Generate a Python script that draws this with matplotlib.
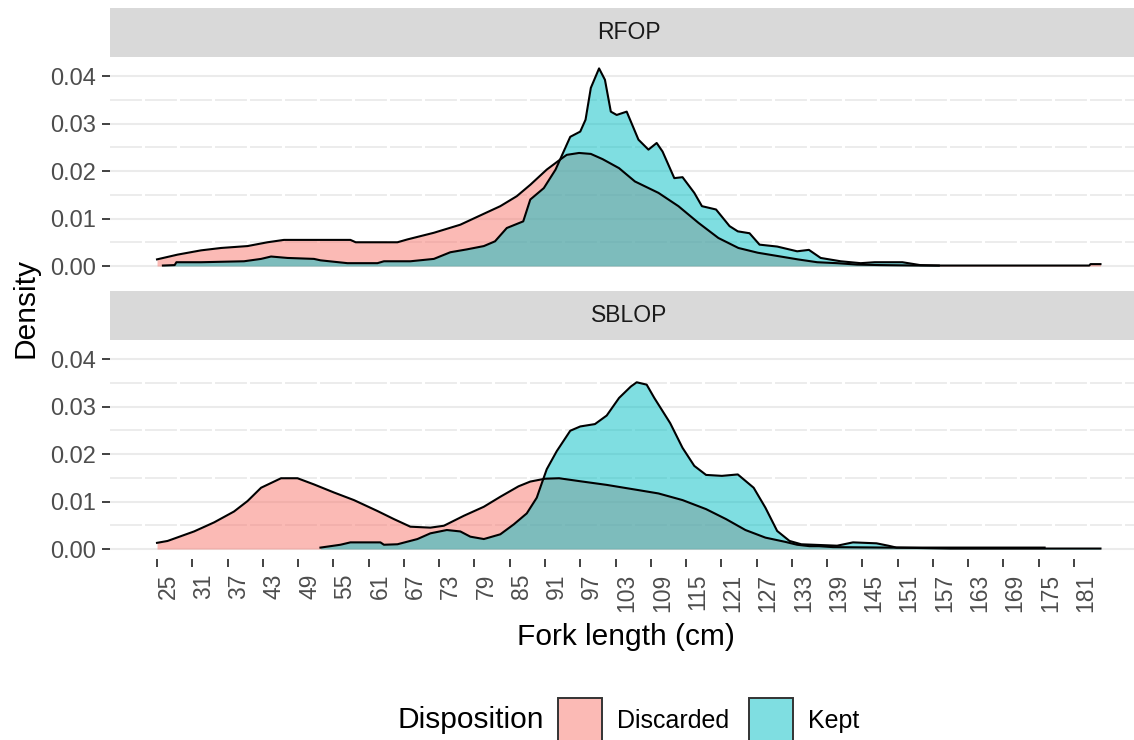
import matplotlib
matplotlib.use('Agg')
import matplotlib.pyplot as plt
from matplotlib.patches import Rectangle

plt.rcParams['font.family'] = ['Liberation Sans', 'DejaVu Sans']
plt.rcParams['lines.scale_dashes'] = False

# density curves (fork length cm, density)
rfop_disc_x = [25, 28.5, 32.5, 35.9, 40.4, 43.8, 46.6, 52.3, 57.9, 58.8, 65.9, 67.6, 72.1, 76.6,
               80.6, 83.4, 86.2, 88.5, 91.3, 93.9, 94.7, 96.8, 98.8, 100.8, 103.6, 106.3, 110.3,
               113.7, 117.1, 120.5, 123.9, 127.2, 130.6, 134.0, 137.3, 140.7, 144.1, 148, 155,
               165, 175, 183.6, 183.8, 185.5]
rfop_disc_y = [0.0014, 0.0024, 0.0033, 0.0038, 0.0042, 0.0050, 0.0055, 0.0055, 0.0055, 0.0050,
               0.0050, 0.0056, 0.0070, 0.0087, 0.0110, 0.0126, 0.0147, 0.0171, 0.0203, 0.0227,
               0.0234, 0.0238, 0.0236, 0.0225, 0.0206, 0.0178, 0.0154, 0.0126, 0.0091, 0.0059,
               0.0038, 0.0028, 0.0021, 0.0014, 0.0008, 0.0006, 0.0003, 0.0002, 0.0001, 0.0001,
               0.0001, 0.0001, 0.0004, 0.0004]

rfop_kept_x = [26.0, 28.0, 28.3, 32.5, 39.8, 42.7, 44.4, 47.2, 51.7, 52.8, 57.4, 62.5, 63.6, 68.1,
               72.1, 74.9, 77.7, 80.6, 82.5, 84.5, 87.3, 88.5, 90.8, 92.8, 94.5, 95.3, 97.0,
               97.9, 98.8, 100.2, 101.2, 102.2, 103.2, 104.9, 106.9, 108.6, 110.0, 111.0, 113.0,
               114.4, 116.4, 117.7, 120.1, 122.4, 123.8, 125.8, 127.5, 130.5, 133.9, 135.9,
               137.9, 141.3, 144.7, 147.1, 151.8, 154.8, 158]
rfop_kept_y = [0.0001, 0.0002, 0.0008, 0.0008, 0.0010, 0.0015, 0.0020, 0.0017, 0.0015, 0.0012,
               0.0006, 0.0006, 0.0010, 0.0010, 0.0015, 0.0029, 0.0035, 0.0042, 0.0052, 0.0080,
               0.0094, 0.0140, 0.0164, 0.0203, 0.0250, 0.0272, 0.0283, 0.0308, 0.0375, 0.0416,
               0.0392, 0.0325, 0.0318, 0.0325, 0.0266, 0.0245, 0.0259, 0.0241, 0.0185, 0.0187,
               0.0154, 0.0126, 0.0119, 0.0084, 0.0073, 0.0069, 0.0045, 0.0041, 0.0031, 0.0034,
               0.0017, 0.0010, 0.0006, 0.0008, 0.0008, 0.0002, 0.0001]

sblop_disc_x = [25, 26.8, 31.3, 34.7, 38.1, 40.4, 42.7, 46.1, 48.9, 51.7, 55.1, 58.5, 62.5, 65.3,
                68.1, 71.5, 73.8, 77.2, 80.6, 83.4, 86.5, 88.5, 91.0, 93.4, 96.8, 101.5, 106.9,
                110.3, 114.4, 118.4, 121.8, 125.1, 128.5, 131.9, 133.9, 136, 137.6, 140, 150,
                160, 170, 176]
sblop_disc_y = [0.0013, 0.0017, 0.0037, 0.0056, 0.0079, 0.0101, 0.0129, 0.0149, 0.0149, 0.0136,
                0.0119, 0.0103, 0.0080, 0.0063, 0.0047, 0.0045, 0.0049, 0.0070, 0.0089, 0.0110,
                0.0132, 0.0142, 0.0148, 0.0149, 0.0143, 0.0135, 0.0124, 0.0117, 0.0103, 0.0084,
                0.0063, 0.0040, 0.0024, 0.0015, 0.0009, 0.0006, 0.0006, 0.0004, 0.0003, 0.0003,
                0.0003, 0.0003]

sblop_kept_x = [52.8, 56.2, 57.9, 63.0, 63.6, 65.9, 69.3, 71.5, 74.3, 76.6, 78.3, 80.6, 83.4, 85.7,
                87.9, 89.6, 90.5, 91.3, 93.0, 95.3, 97.0, 99.5, 101.5, 103.6, 105.6, 106.6, 108.3,
                109.6, 112.3, 114.4, 116.4, 118.4, 121.1, 123.8, 126.5, 128.5, 130.5, 132.6,
                134.6, 140.7, 143.4, 147.4, 149.4, 150.8, 160, 175, 185.5]
sblop_kept_y = [0.0003, 0.0009, 0.0014, 0.0014, 0.0009, 0.0010, 0.0021, 0.0033, 0.0040, 0.0037,
                0.0026, 0.0021, 0.0031, 0.0052, 0.0075, 0.0108, 0.0140, 0.0168, 0.0206, 0.0249,
                0.0258, 0.0263, 0.0281, 0.0318, 0.0342, 0.0351, 0.0346, 0.0318, 0.0265, 0.0213,
                0.0175, 0.0156, 0.0154, 0.0157, 0.0129, 0.0087, 0.0038, 0.0017, 0.0010, 0.0007,
                0.0014, 0.0012, 0.0007, 0.0003, 0.0001, 0.0001, 0.0001]

panels = ['RFOP', 'SBLOP']
groups = ['Discarded', 'Kept']
colors = ['#F8766D', '#00BFC4']
curves = {
    'RFOP': [(rfop_disc_x, rfop_disc_y), (rfop_kept_x, rfop_kept_y)],
    'SBLOP': [(sblop_disc_x, sblop_disc_y), (sblop_kept_x, sblop_kept_y)],
}
xticks = list(range(25, 182, 6))
yticks = [0.0, 0.01, 0.02, 0.03, 0.04]
yminor = [0.005, 0.015, 0.025, 0.035]

W, H = 1134, 740


def rect(left, top, width, height):
    return [left / W, 1 - (top + height) / H, width / W, height / H]


fig = plt.figure(figsize=(W / 100, H / 100), dpi=100)
fig.patch.set_facecolor('white')

panel_left = 110
panel_w = 1037.5
panel_h = 219
tops = [57, 340]
strip_tops = [8, 291]

tick_col = '#4D4D4D'
for i, name in enumerate(panels):
    sax = fig.add_axes(rect(panel_left, strip_tops[i], panel_w, 49))
    sax.set_facecolor('#D9D9D9')
    sax.set_xticks([])
    sax.set_yticks([])
    for s in sax.spines.values():
        s.set_visible(False)
    sax.text(0.5, 0.5, name, transform=sax.transAxes, ha='center', va='center',
             fontsize=16.5, color='#1A1A1A')

    ax = fig.add_axes(rect(panel_left, tops[i], panel_w, panel_h))
    ax.set_xlim(17.0, 193.5)
    ax.set_ylim(-0.0021, 0.0440)
    for s in ax.spines.values():
        s.set_visible(False)
    for y in yticks:
        ax.axhline(y, color='#EBEBEB', lw=1.5, zorder=0)
    for y in yminor:
        ax.axhline(y, color='#EBEBEB', lw=1.3, ls=(0, (23, 2.2)), zorder=0)

    for (xs, ys), c in zip(curves[name], colors):
        ax.fill_between(xs, 0, ys, color=c, alpha=0.5, lw=0, zorder=2)
        ax.plot(xs, ys, color='black', lw=1.5, zorder=3, solid_joinstyle='round')

    ax.set_yticks(yticks)
    ax.set_yticklabels(['%.2f' % v for v in yticks])
    ax.tick_params(axis='y', length=5.6, width=1.3, color='#333333', pad=4.5,
                   labelsize=17, labelcolor=tick_col)
    if i == 1:
        ax.set_xticks(xticks)
        ax.set_xticklabels([str(v) for v in xticks], rotation=90, rotation_mode='anchor',
                           ha='right', va='top')
        ax.tick_params(axis='x', length=5.6, width=1.3, color='#333333', pad=5,
                       labelsize=16.5, labelcolor=tick_col)
    else:
        ax.set_xticks([])

fig.text(626 / W, 1 - 637 / H, 'Fork length (cm)', ha='center', va='center', fontsize=21.5)
fig.text(26 / W, 1 - 308 / H, 'Density', ha='center', va='center', fontsize=21.5,
         rotation=90)

# legend along the bottom
fig.text(397 / W, 1 - 720 / H, 'Disposition', ha='left', va='center', fontsize=21.5)
key_left = [558, 749]
text_left = [617, 808]
for c, kl, tl, g in zip(colors, key_left, text_left, groups):
    fig.patches.append(Rectangle((kl / W, 1 - 741 / H), 44 / W, 43 / H,
                                 transform=fig.transFigure, facecolor=c, alpha=0.5,
                                 edgecolor='none'))
    fig.patches.append(Rectangle((kl / W, 1 - 741 / H), 44 / W, 43 / H,
                                 transform=fig.transFigure, facecolor='none',
                                 edgecolor='#333333', lw=1.4))
    fig.text(tl / W, 1 - 721 / H, g, ha='left', va='center', fontsize=18)

fig.savefig('out.png', dpi=100)
